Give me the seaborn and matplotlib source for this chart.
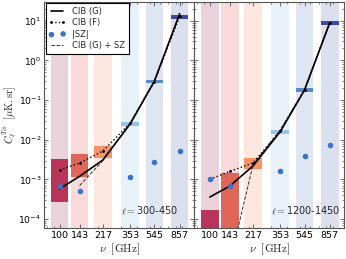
import numpy as np
import pandas as pd
import seaborn as sns
import matplotlib
matplotlib.use("Agg")
import matplotlib.pyplot as plt
from matplotlib.ticker import NullFormatter, FixedLocator

# ---------------- data ----------------
freqs = [100, 143, 217, 353, 545, 857]
freq_labels = ["100", "143", "217", "353", "545", "857"]
panel_labels = [r"$\ell=$300-450", r"$\ell=$1200-1450"]

# measured boxes (low / high)
box_lo_1 = [2.7e-4, 1.15e-3, 3.5e-3, 0.022, 0.268, 11.0]
box_hi_1 = [3.3e-3, 4.3e-3, 6.9e-3, 0.0278, 0.32, 13.9]
box_lo_2 = [1e-5, 1e-5, 1.86e-3, 0.0139, 0.159, 8.0]
box_hi_2 = [1.7e-4, 1.44e-3, 3.4e-3, 0.0176, 0.20, 10.0]

# models
cib_g_1 = [5.8e-4, 1.2e-3, 3.1e-3, 0.025, 0.30, 15.0]
cib_f_1 = [1.72e-3, 2.6e-3, 5.2e-3, 0.026, 0.29, 13.0]
sz_1 = [7e-4, 5e-4, np.nan, 1.12e-3, 2.7e-3, 5.2e-3]
cibsz_1 = [np.nan, 7e-4, 3.0e-3, 0.026, 0.30, 15.0]

cib_g_2 = [3.6e-4, 6.8e-4, 2.2e-3, 0.016, 0.18, 9.0]
cib_f_2 = [1.0e-3, 1.6e-3, 2.6e-3, 0.017, 0.18, 9.0]
sz_2 = [1.0e-3, 6.8e-4, np.nan, 1.6e-3, 3.9e-3, 7.4e-3]
cibsz_2 = [np.nan, 8e-6, 2.4e-3, 0.0176, 0.184, 9.0]

box_colors = ["#b3234b", "#df5a4c", "#f68a5a", "#8dbfe1", "#4a80c6", "#2c3a9c"]
band_colors = ["#ead2da", "#f9dada", "#fde7df", "#e8f1f8", "#dfe6f2", "#dcdfee"]

# ---------------- style ----------------
sns.set_style("ticks")
plt.rcParams.update({
    "font.family": ["DejaVu Sans"],
    "mathtext.fontset": "cm",
    "axes.edgecolor": "#555555",
    "axes.linewidth": 0.8,
    "xtick.direction": "in",
    "ytick.direction": "in",
    "xtick.color": "#555555",
    "ytick.color": "#555555",
    "xtick.labelcolor": "black",
    "ytick.labelcolor": "black",
    "xtick.top": True,
    "ytick.right": True,
    "xtick.labelsize": 6.8,
    "ytick.labelsize": 6.6,
})

fig = plt.figure(figsize=(3.46, 2.59), dpi=100)
left, right, bottom, top = 0.127, 0.995, 0.12, 0.993
w = (right - left) / 2
ax1 = fig.add_axes([left, bottom, w, top - bottom])
ax2 = fig.add_axes([left + w, bottom, w, top - bottom], sharey=ax1)

fac = 1.17
datasets = [
    (ax1, box_lo_1, box_hi_1, cib_g_1, cib_f_1, sz_1, cibsz_1, panel_labels[0]),
    (ax2, box_lo_2, box_hi_2, cib_g_2, cib_f_2, sz_2, cibsz_2, panel_labels[1]),
]

for i, (ax, lo, hi, cg, cf, sz, cs, lab) in enumerate(datasets):
    ax.set_xscale("log")
    ax.set_yscale("log")
    for f, bc, c, l, h in zip(freqs, band_colors, box_colors, lo, hi):
        ax.axvspan(f / fac, f * fac, color=bc, lw=0, zorder=0)
        ax.fill_between([f / fac, f * fac], [l, l], [h, h], color=c, alpha=0.9, lw=0, zorder=1)
    df = pd.DataFrame({"nu": freqs, "g": cg, "f": cf, "sz": sz, "gsz": cs})
    sns.lineplot(data=df, x="nu", y="g", ax=ax, color="k", lw=1.2, sort=False,
                 estimator=None, label="CIB (G)" if i == 0 else None, zorder=4)
    sns.lineplot(data=df, x="nu", y="f", ax=ax, color="k", lw=1.0, linestyle=":",
                 marker="o", markersize=2, markeredgewidth=0, sort=False, estimator=None,
                 label="CIB (F)" if i == 0 else None, zorder=4)
    sns.scatterplot(data=df.dropna(subset=["sz"]), x="nu", y="sz", ax=ax, color="#3b74c2",
                    s=16, linewidth=0, label="|SZ|" if i == 0 else None, zorder=5)
    sns.lineplot(data=df.dropna(subset=["gsz"]), x="nu", y="gsz", ax=ax, color="#333333",
                 lw=0.7, linestyle="--", sort=False, estimator=None,
                 label="CIB (G) + SZ" if i == 0 else None, zorder=3)
    ax.set_xlim(75.5, 1110)
    ax.set_ylim(6e-5, 30)
    ax.xaxis.set_major_locator(FixedLocator(freqs))
    ax.set_xticklabels(freq_labels)
    ax.xaxis.set_minor_formatter(NullFormatter())
    ax.tick_params(which="major", length=3, width=0.6, pad=2)
    ax.tick_params(which="minor", length=1.5, width=0.5)
    ax.set_xlabel(r"$\nu\ \ [\mathrm{GHz}]$", fontsize=8, labelpad=1)
    ax.set_ylabel("")
    ax.text(0.51, 0.075, lab, transform=ax.transAxes, fontsize=7, ha="left", va="center")

ax2.tick_params(labelleft=False)
ax1.set_ylabel(r"$C_\ell^{T\phi}\ \ [\mu\mathrm{K.sr}]$", fontsize=7.5)
ax1.yaxis.set_label_coords(-0.168, 0.5)

leg = ax1.legend(loc="upper left", fontsize=6, frameon=True, fancybox=False,
                 edgecolor="black", framealpha=1, scatterpoints=2, numpoints=2,
                 borderaxespad=0.2, handlelength=2.0, labelspacing=0.3, borderpad=0.4)
leg.get_frame().set_linewidth(0.8)
if ax2.get_legend() is not None:
    ax2.get_legend().remove()

fig.savefig("out.png", dpi=100)
